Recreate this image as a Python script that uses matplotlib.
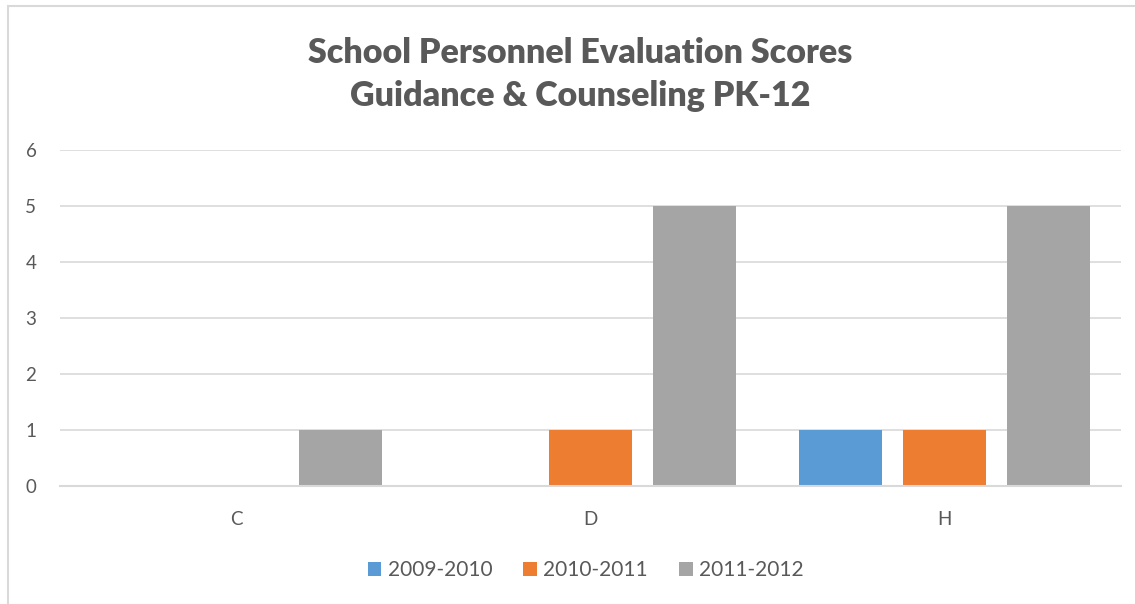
import numpy as np
import matplotlib.pyplot as plt
from matplotlib.patches import Rectangle

# data
categories = ['C', 'D', 'H']
series_names = ['2009-2010', '2010-2011', '2011-2012']
scores_0910 = [0, 0, 1]
scores_1011 = [0, 1, 1]
scores_1112 = [1, 5, 5]
yticks = [0, 1, 2, 3, 4, 5, 6]

colors = ['#5b9bd5', '#ed7d31', '#a5a5a5']
text_col = '#595959'

plt.rcParams['font.family'] = ['Lato', 'DejaVu Sans']

fig = plt.figure(figsize=(11.35, 6.04), dpi=100)
ax = fig.add_axes([60/1135, 1 - 486/604, (1121 - 60)/1135, (486 - 150)/604])

x = np.arange(len(categories))
width = 0.235
step = 0.294
all_series = [scores_0910, scores_1011, scores_1112]
for i, vals in enumerate(all_series):
    ax.bar(x + (i - 1) * step, vals, width, color=colors[i], label=series_names[i], zorder=3)

ax.set_xlim(-0.5, 2.5)
ax.set_ylim(0, 6)
ax.set_yticks(yticks)
ax.set_xticks(x)
ax.set_xticklabels(categories)
ax.tick_params(length=0, labelsize=13.5, colors=text_col)
ax.tick_params(axis='x', pad=18)
ax.tick_params(axis='y', pad=17)
ax.grid(axis='y', color='#d9d9d9', linewidth=1.2, zorder=0)
for s in ['top', 'right', 'left']:
    ax.spines[s].set_visible(False)
ax.spines['bottom'].set_color('#d9d9d9')
ax.spines['bottom'].set_linewidth(1.5)
ax.spines['bottom'].set_zorder(4)

fig.text(0.511, 0.876, 'School Personnel Evaluation Scores\nGuidance & Counseling PK-12',
         ha='center', va='center', fontsize=24.5, fontweight='heavy', color=text_col,
         linespacing=1.42)

leg = fig.legend(loc='center', bbox_to_anchor=(0.516, 0.056), ncol=3, frameon=False,
                 fontsize=15, handlelength=0.65, handleheight=0.65, handletextpad=0.3,
                 columnspacing=1.5)
for t in leg.get_texts():
    t.set_color(text_col)

# outer chart border (left and top visible)
fig.patches.append(Rectangle((8/1135, -0.1), 1.2, 1 - 6/604 + 0.1, transform=fig.transFigure,
                             fill=False, edgecolor='#d9d9d9', linewidth=1.5))

fig.savefig('out.png', dpi=100)
